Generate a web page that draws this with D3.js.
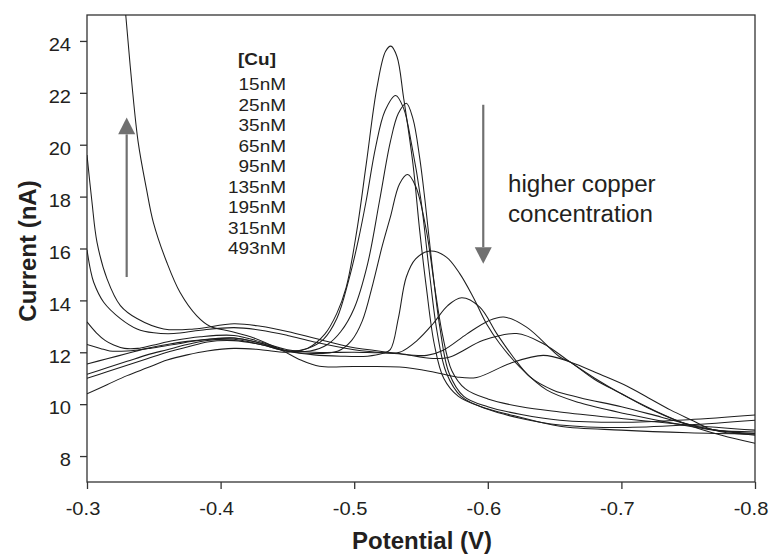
<!DOCTYPE html>
<html>
<head>
<meta charset="utf-8">
<script src="https://cdn.jsdelivr.net/npm/d3@7"></script>
<style>
body { margin: 0; background: #fff; }
text { font-family: "Liberation Sans", Arial, Helvetica, sans-serif; fill: #231f20; }
</style>
</head>
<body>
<div id="chart"></div>
<script>
// tick values / labels
const xTicks = [-0.3, -0.4, -0.5, -0.6, -0.7, -0.8];
const xTickLabels = ["-0.3", "-0.4", "-0.5", "-0.6", "-0.7", "-0.8"];
const yTicks = [8, 10, 12, 14, 16, 18, 20, 22, 24];
const yTickLabels = ["8", "10", "12", "14", "16", "18", "20", "22", "24"];

const concLabels = ["15nM", "25nM", "35nM", "65nM", "95nM", "135nM", "195nM", "315nM", "493nM"];

// [potential (V), current (nA)]
const cu15 = [[-0.300,10.40],[-0.315,10.75],[-0.330,11.10],[-0.345,11.40],[-0.360,11.70],[-0.375,11.90],[-0.390,12.05],[-0.410,12.15],[-0.430,12.10],[-0.450,12.00],[-0.465,12.15],[-0.478,12.70],[-0.487,13.50],[-0.494,14.50],[-0.502,16.70],[-0.509,19.25],[-0.517,22.20],[-0.5235,23.60],[-0.5275,23.80],[-0.532,23.40],[-0.537,21.80],[-0.544,19.25],[-0.549,16.70],[-0.554,14.50],[-0.560,12.30],[-0.567,11.00],[-0.578,10.30],[-0.595,9.90],[-0.620,9.55],[-0.654,9.15],[-0.700,9.00],[-0.750,8.90],[-0.800,8.85]];
const cu25 = [[-0.300,11.00],[-0.315,11.25],[-0.330,11.50],[-0.345,11.75],[-0.360,12.00],[-0.375,12.20],[-0.390,12.40],[-0.410,12.45],[-0.430,12.30],[-0.450,12.05],[-0.465,12.15],[-0.477,12.50],[-0.487,13.30],[-0.496,14.80],[-0.503,16.30],[-0.509,17.85],[-0.516,19.90],[-0.523,21.30],[-0.531,21.90],[-0.537,21.40],[-0.543,20.00],[-0.550,17.85],[-0.556,15.20],[-0.562,12.80],[-0.569,11.20],[-0.580,10.30],[-0.600,9.80],[-0.625,9.45],[-0.654,9.20],[-0.700,9.10],[-0.750,9.20],[-0.800,9.38]];
const cu35 = [[-0.300,11.15],[-0.315,11.40],[-0.330,11.65],[-0.345,11.90],[-0.360,12.10],[-0.375,12.30],[-0.390,12.45],[-0.410,12.50],[-0.430,12.30],[-0.450,12.05],[-0.467,12.05],[-0.480,12.30],[-0.490,12.80],[-0.500,13.70],[-0.510,15.40],[-0.519,17.85],[-0.527,20.10],[-0.533,21.20],[-0.539,21.60],[-0.544,21.00],[-0.549,19.50],[-0.553,17.85],[-0.558,15.50],[-0.564,13.00],[-0.571,11.20],[-0.582,10.30],[-0.600,9.90],[-0.625,9.60],[-0.654,9.38],[-0.700,9.30],[-0.750,9.40],[-0.800,9.58]];
const cu65 = [[-0.300,11.55],[-0.315,11.75],[-0.330,11.95],[-0.345,12.15],[-0.360,12.30],[-0.375,12.42],[-0.390,12.50],[-0.410,12.55],[-0.430,12.35],[-0.450,12.05],[-0.470,11.95],[-0.488,12.05],[-0.498,12.45],[-0.506,13.20],[-0.514,14.64],[-0.521,16.10],[-0.527,17.20],[-0.534,18.50],[-0.540,18.85],[-0.546,18.40],[-0.554,16.70],[-0.560,14.60],[-0.566,12.70],[-0.573,11.30],[-0.583,10.60],[-0.600,10.20],[-0.625,9.90],[-0.654,9.70],[-0.700,9.45],[-0.750,9.20],[-0.800,9.00]];
const cu95 = [[-0.300,12.30],[-0.310,12.15],[-0.317,12.05],[-0.330,12.05],[-0.347,12.15],[-0.365,12.30],[-0.385,12.46],[-0.410,12.55],[-0.430,12.35],[-0.450,12.05],[-0.470,11.90],[-0.490,11.85],[-0.510,11.85],[-0.521,11.95],[-0.527,12.10],[-0.533,13.30],[-0.539,14.90],[-0.546,15.60],[-0.5567,15.90],[-0.569,15.67],[-0.579,15.03],[-0.589,14.13],[-0.599,13.10],[-0.609,12.33],[-0.624,11.43],[-0.644,10.55],[-0.669,10.05],[-0.706,9.60],[-0.740,9.25],[-0.770,9.00],[-0.800,8.93]];
const cu135 = [[-0.300,13.17],[-0.307,12.75],[-0.3135,12.46],[-0.320,12.28],[-0.328,12.15],[-0.338,12.15],[-0.349,12.27],[-0.365,12.45],[-0.385,12.60],[-0.410,12.65],[-0.430,12.40],[-0.450,12.10],[-0.470,12.00],[-0.500,12.00],[-0.520,11.98],[-0.534,12.00],[-0.547,12.45],[-0.559,13.10],[-0.570,13.80],[-0.5805,14.10],[-0.594,13.74],[-0.6067,12.72],[-0.619,11.82],[-0.6316,11.05],[-0.649,10.54],[-0.669,10.25],[-0.700,9.90],[-0.730,9.50],[-0.760,9.10],[-0.800,8.80]];
const cu195 = [[-0.300,15.95],[-0.3025,15.20],[-0.305,14.70],[-0.3125,13.93],[-0.325,13.30],[-0.3375,12.90],[-0.350,12.75],[-0.365,12.72],[-0.385,12.85],[-0.410,12.95],[-0.430,12.85],[-0.450,12.65],[-0.470,12.40],[-0.500,12.10],[-0.530,11.95],[-0.5543,11.88],[-0.5667,12.08],[-0.5842,12.70],[-0.600,13.20],[-0.612,13.36],[-0.629,12.97],[-0.654,11.82],[-0.6615,11.63],[-0.680,10.95],[-0.700,10.40],[-0.720,9.85],[-0.745,9.30],[-0.770,9.00],[-0.800,8.87]];
const cu315 = [[-0.300,19.60],[-0.3037,17.80],[-0.3075,16.24],[-0.315,14.83],[-0.325,13.80],[-0.3374,13.30],[-0.3574,12.90],[-0.380,12.90],[-0.410,13.10],[-0.430,13.00],[-0.450,12.80],[-0.472,12.52],[-0.497,12.20],[-0.534,11.95],[-0.559,11.76],[-0.5717,11.82],[-0.5966,12.46],[-0.6216,12.72],[-0.6416,12.33],[-0.6615,11.63],[-0.680,11.00],[-0.700,10.40],[-0.725,9.75],[-0.750,9.20],[-0.775,8.80],[-0.800,8.49]];
const cu493 = [[-0.300,48.0],[-0.310,38.0],[-0.320,30.0],[-0.329,25.0],[-0.3335,22.4],[-0.3383,20.1],[-0.3445,18.3],[-0.3497,17.0],[-0.3597,15.47],[-0.3697,14.3],[-0.3822,13.4],[-0.392,13.0],[-0.408,12.8],[-0.425,12.55],[-0.4457,12.08],[-0.460,11.70],[-0.474,11.46],[-0.500,11.45],[-0.534,11.43],[-0.5592,11.24],[-0.5767,11.05],[-0.5917,11.03],[-0.6166,11.57],[-0.6415,11.88],[-0.6615,11.63],[-0.684,11.15],[-0.704,10.70],[-0.720,10.25],[-0.737,9.77],[-0.754,9.35],[-0.766,9.05],[-0.779,8.90],[-0.800,8.85]];

const curves = [cu15, cu25, cu35, cu65, cu95, cu135, cu195, cu315, cu493];

const W = 770, H = 555;
const margin = {top: 15, right: 15, bottom: 73, left: 87};
const sx = 1.15; // tick/legend text is a bit wider than the plain font

const svg = d3.select('#chart')
  .append('svg')
  .attr('width', W)
  .attr('height', H)

const x = d3.scaleLinear()
  .domain([-0.3, -0.8])
  .range([margin.left, W - margin.right])

const y = d3.scaleLinear()
  .domain([7, 25])
  .range([H - margin.bottom, margin.top])

svg.append('clipPath')
  .attr('id', 'plot')
  .append('rect')
  .attr('x', margin.left)
  .attr('y', margin.top)
  .attr('width', W - margin.left - margin.right)
  .attr('height', H - margin.top - margin.bottom)

// axes
let gx = svg.append('g')
  .attr('transform', 'translate(0,' + (H - margin.bottom) + ')')
  .call(d3.axisBottom(x).tickValues(xTicks).tickSize(7).tickSizeOuter(0)
    .tickFormat((d, i) => xTickLabels[i]))

let gy = svg.append('g')
  .attr('transform', 'translate(' + margin.left + ',0)')
  .call(d3.axisLeft(y).tickValues(yTicks).tickSize(7).tickSizeOuter(0)
    .tickFormat((d, i) => yTickLabels[i]))

gx.select('.domain').remove()
gy.select('.domain').remove()
svg.selectAll('.tick line').attr('stroke', '#333').attr('stroke-width', 1.3)

gx.selectAll('text')
  .attr('font-size', 17.5)
  .attr('font-family', null)
  .attr('fill', null)
  .attr('dy', null)
  .attr('y', 33)
  .attr('x', -4.5 / sx)
  .attr('transform', 'scale(' + sx + ',1)')

gy.selectAll('text')
  .attr('font-size', 17.5)
  .attr('font-family', null)
  .attr('fill', null)
  .attr('dy', null)
  .attr('y', 9.8)
  .attr('x', -16 / sx)
  .attr('transform', 'scale(' + sx + ',1)')

// frame
svg.append('rect')
  .attr('x', margin.left)
  .attr('y', margin.top)
  .attr('width', W - margin.left - margin.right)
  .attr('height', H - margin.top - margin.bottom)
  .attr('fill', 'none')
  .attr('stroke', '#333')
  .attr('stroke-width', 1.3)

// curves
const line = d3.line()
  .x(d => x(d[0]))
  .y(d => y(d[1]))
  .curve(d3.curveCatmullRom.alpha(0.5))

svg.append('g')
  .attr('clip-path', 'url(#plot)')
  .selectAll('path')
  .data(curves)
  .enter()
  .append('path')
  .attr('d', line)
  .attr('fill', 'none')
  .attr('stroke', '#1e1e1e')
  .attr('stroke-width', 1.05)

// arrows
const arrowCol = '#707070';
function arrow(v, c0, c1, tip) {
  let ax = x(v);
  svg.append('line')
    .attr('x1', ax).attr('x2', ax)
    .attr('y1', y(c0)).attr('y2', y(c1))
    .attr('stroke', arrowCol)
    .attr('stroke-width', 2.2)
  svg.append('path')
    .attr('d', 'M' + (ax - 8.5) + ',' + y(c1) + 'L' + (ax + 8.5) + ',' + y(c1) + 'L' + ax + ',' + y(tip) + 'Z')
    .attr('fill', arrowCol)
}
arrow(-0.3297, 14.9, 20.4, 21.05)
arrow(-0.5966, 21.54, 16.05, 15.41)

// legend
svg.append('text')
  .attr('transform', 'translate(257,65) scale(' + sx + ',1)')
  .attr('text-anchor', 'middle')
  .attr('font-size', 16.5)
  .attr('font-weight', 'bold')
  .text('[Cu]')

svg.selectAll('.conc')
  .data(concLabels)
  .enter()
  .append('text')
  .attr('class', 'conc')
  .attr('transform', (d, i) => 'translate(286,' + (90 + i * 20.5) + ') scale(' + sx + ',1)')
  .attr('text-anchor', 'end')
  .attr('font-size', 16.5)
  .text(d => d)

svg.append('text')
  .attr('transform', 'translate(508,191.5) scale(1.05,1)')
  .attr('font-size', 23)
  .text('higher copper')

svg.append('text')
  .attr('transform', 'translate(508,221.5) scale(1.05,1)')
  .attr('font-size', 23)
  .text('concentration')

// axis titles
svg.append('text')
  .attr('x', 422)
  .attr('y', 549)
  .attr('text-anchor', 'middle')
  .attr('font-size', 24)
  .attr('font-weight', 'bold')
  .text('Potential (V)')

svg.append('text')
  .attr('transform', 'translate(36,251) rotate(-90)')
  .attr('text-anchor', 'middle')
  .attr('font-size', 24)
  .attr('font-weight', 'bold')
  .text('Current (nA)')
</script>
</body>
</html>
